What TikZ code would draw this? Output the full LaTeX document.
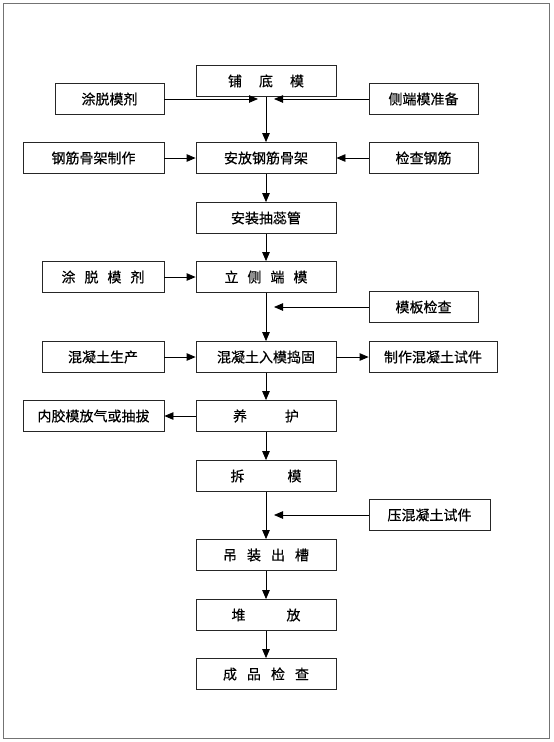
\documentclass[tikz,border=0pt]{standalone}
\usepackage{fontspec}
\newfontfamily\cjk[FakeBold=0.4]{Noto Sans CJK SC}
\usetikzlibrary{arrows.meta}
\tikzset{
  box/.style={draw=black!85, line width=0.8pt, rectangle, inner sep=0pt, minimum height=31pt, font=\cjk\fontsize{14}{16}\selectfont},
  mainbox/.style={box, minimum width=140pt},
  conn/.style={line width=0.8pt, -{Triangle[length=9pt,width=7.5pt]}},
}
\newcommand{\gapx}[1]{\hspace{#1pt}}
\begin{document}
\begin{tikzpicture}[x=1pt,y=-1pt]
\useasboundingbox (0,0) rectangle (554,742);
\draw[black!55, line width=1pt] (3,3) rectangle (549,738);
% main column
\node[mainbox] (n1) at (266,81) {铺\gapx{17}底\gapx{17}模};
\node[mainbox] (n2) at (266,158) {安放钢筋骨架};
\node[mainbox] (n3) at (266,218) {安装抽蕊管};
\node[mainbox] (n4) at (266,277) {立\gapx{9}侧\gapx{9}端\gapx{9}模};
\node[mainbox] (n5) at (266,357) {混凝土入模捣固};
\node[mainbox] (n6) at (266,416) {养\gapx{38}护};
\node[mainbox] (n7) at (266,476) {拆\gapx{43}模};
\node[mainbox] (n8) at (266,555) {吊\gapx{10}装\gapx{10}出\gapx{10}槽};
\node[mainbox] (n9) at (266,615) {堆\gapx{41}放};
\node[mainbox] (n10) at (266,674) {成\gapx{10}品\gapx{10}检\gapx{10}查};
% side boxes
\node[box, minimum width=109pt] (a1) at (109.5,99) {涂脱模剂};
\node[box, minimum width=109pt] (b1) at (423.5,99) {侧端模准备};
\node[box, minimum width=141pt] (a2) at (93.5,158) {钢筋骨架制作};
\node[box, minimum width=109pt] (b2) at (423.5,158) {检查钢筋};
\node[box, minimum width=122pt] (a3) at (103,277) {涂\gapx{9}脱\gapx{9}模\gapx{9}剂};
\node[box, minimum width=109pt] (b3) at (423.5,307) {模板检查};
\node[box, minimum width=122pt] (a4) at (103,357) {混凝土生产};
\node[box, minimum width=128pt] (b4) at (433,357) {制作混凝土试件};
\node[box, minimum width=141pt] (a5) at (93.5,416) {内胶模放气或抽拔};
\node[box, minimum width=121pt] (b5) at (429.5,515) {压混凝土试件};
% free ends
\coordinate (p1) at (258,99);
\coordinate (q1) at (274,99);
\coordinate (q3) at (274,307);
\coordinate (q5) at (274,515);
% connectors
\draw[conn] (n1) -- (n2);
\draw[conn] (a1.east) -- (p1);
\draw[conn] (b1.west) -- (q1);
\draw[conn] (a2) -- (n2);
\draw[conn] (b2) -- (n2);
\draw[conn] (n2) -- (n3);
\draw[conn] (n3) -- (n4);
\draw[conn] (a3) -- (n4);
\draw[conn] (n4) -- (n5);
\draw[conn] (b3.west) -- (q3);
\draw[conn] (a4) -- (n5);
\draw[conn] (n5) -- (b4);
\draw[conn] (n5) -- (n6);
\draw[conn] (n6) -- (a5);
\draw[conn] (n6) -- (n7);
\draw[conn] (n7) -- (n8);
\draw[conn] (b5.west) -- (q5);
\draw[conn] (n8) -- (n9);
\draw[conn] (n9) -- (n10);
\end{tikzpicture}
\end{document}
